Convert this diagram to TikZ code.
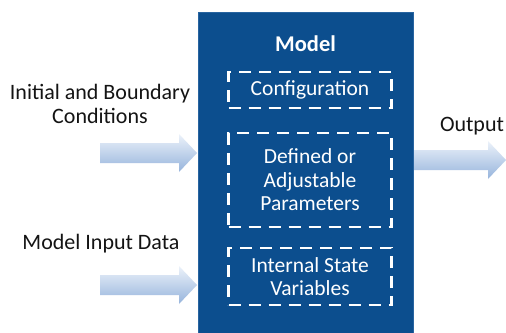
\documentclass[tikz,border=0pt]{standalone}
\usepackage{fontspec}
\setmainfont{Carlito}
\usetikzlibrary{shadings}
\definecolor{modelblue}{RGB}{12,78,142}
\definecolor{modeledge}{RGB}{40,100,160}
\definecolor{arrowtop}{RGB}{236,242,250}
\definecolor{arrowbot}{RGB}{150,180,220}
\definecolor{txt}{RGB}{20,20,20}
\tikzset{
  x=1pt, y=-1pt,
  modelbox/.style={fill=modelblue, draw=modeledge, line width=0.8pt},
  partbox/.style={draw=white, line width=2.6pt, dash pattern=on 12pt off 8pt,
    minimum width=163pt, text=white, font=\fontsize{21.5}{23.5}\selectfont, align=center},
  label/.style={text=txt, font=\fontsize{22}{24}\selectfont, align=center},
  flow/.style={top color=arrowtop, bottom color=arrowbot, draw=none},
}
\newcommand{\flowarrow}[3]{% x start, x tip, y center
  \shade[flow] (#1,#3-10) -- (#2-18,#3-10) -- (#2-18,#3-19) -- (#2,#3) --
    (#2-18,#3+19) -- (#2-18,#3+10) -- (#1,#3+10) -- cycle;}
\begin{document}
\begin{tikzpicture}
\useasboundingbox (0,0) rectangle (506,332);
\fill[white] (0,0) rectangle (506,332);

% main model block
\path[modelbox] (198,12) rectangle (413,334);
\node[text=white, font=\fontsize{22.5}{26}\selectfont\bfseries] (title) at (305.5,44) {Model};

% dashed parts of the model
\node[partbox, minimum height=36pt] (config) at (310,90) {Configuration};
\node[partbox, minimum height=94pt] (params) at (310,180) {Defined or\\Adjustable\\Parameters};
\node[partbox, minimum height=57pt] (state) at (310,276.5) {Internal State\\Variables};

% inputs and output
\node[label] (ibc) at (100,104) {Initial and Boundary\\Conditions};
\node[label] (mid) at (101,244) {Model Input Data};
\node[label] (out) at (472,126) {Output};

\flowarrow{100}{197}{153}
\flowarrow{100}{197}{285}
\flowarrow{414}{506}{160}
\end{tikzpicture}
\end{document}
